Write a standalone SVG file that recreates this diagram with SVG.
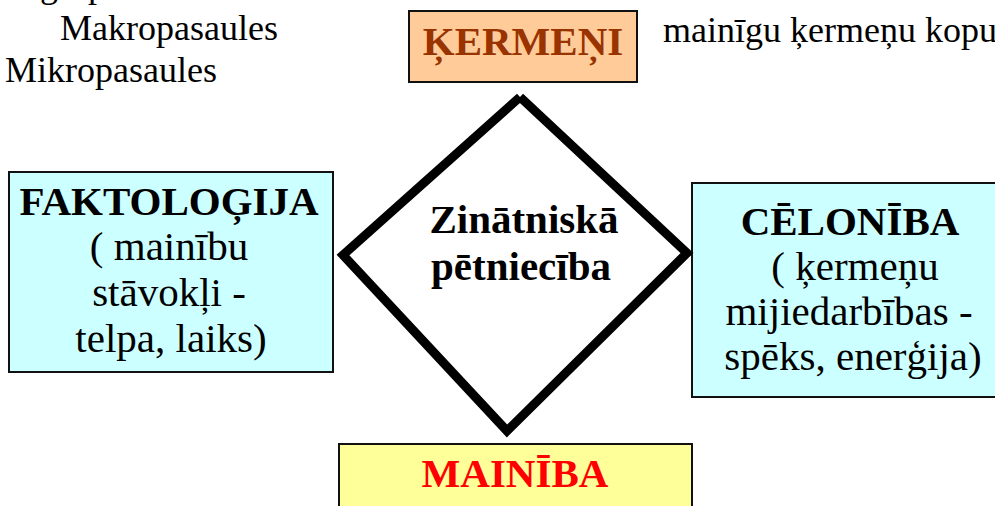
<svg xmlns="http://www.w3.org/2000/svg" width="995" height="506" viewBox="0 0 995 506">
  <style>
    .t { font-family: "Liberation Serif", "Times New Roman", serif; font-size: 41px; text-anchor: middle; }
    .b { font-weight: bold; }
    .note { font-family: "Liberation Serif", "Times New Roman", serif; font-size: 36px; fill: #000; }
    .box { stroke: #111; stroke-width: 2; }
  </style>
  <rect width="995" height="506" fill="#ffffff"/>

  <g id="top-notes">
    <text class="note" x="40" y="-3">g</text>
    <text class="note" x="88" y="-3">p</text>
    <text class="note" x="60" y="40">Makropasaules</text>
    <text class="note" x="5" y="82">Mikropasaules</text>
    <text class="note" x="663" y="42">mainīgu ķermeņu kopu</text>
  </g>

  <g id="kermeni">
    <rect class="box" x="409" y="11" width="228" height="71" fill="#FFCC99"/>
    <text class="t b" x="523" y="55" fill="#993300">ĶERMEŅI</text>
  </g>

  <g id="faktologija">
    <rect class="box" x="9" y="172" width="324" height="200" fill="#CCFFFF"/>
    <text class="t b" x="169" y="215" fill="#000">FAKTOLOĢIJA</text>
    <text class="t" x="169" y="260" fill="#000">( mainību</text>
    <text class="t" x="169" y="306" fill="#000">stāvokļi -</text>
    <text class="t" x="171" y="352" fill="#000">telpa, laiks)</text>
  </g>

  <g id="celoniba">
    <rect class="box" x="692" y="183" width="318" height="214" fill="#CCFFFF"/>
    <text class="t b" x="850" y="235" fill="#000">CĒLONĪBA</text>
    <text class="t" x="855" y="280" fill="#000">( ķermeņu</text>
    <text class="t" x="849" y="325" fill="#000">mijiedarbības -</text>
    <text class="t" x="853" y="370" fill="#000">spēks, enerģija)</text>
  </g>

  <g id="mainiba">
    <rect class="box" x="339" y="444" width="353" height="80" fill="#FFFF99"/>
    <text class="t b" x="515" y="487" fill="#FF0000">MAINĪBA</text>
  </g>

  <g id="zinatniska-petnieciba">
    <path d="M520 97 L687 253 L507 431 L343 255 L520 97" fill="#ffffff" stroke="#000" stroke-width="9" stroke-linejoin="miter" stroke-linecap="butt" stroke-miterlimit="10"/>
    <text class="t b" x="524" y="233" fill="#000">Zinātniskā</text>
    <text class="t b" x="521" y="280" fill="#000">pētniecība</text>
  </g>

  <g id="connectors"></g>
</svg>
